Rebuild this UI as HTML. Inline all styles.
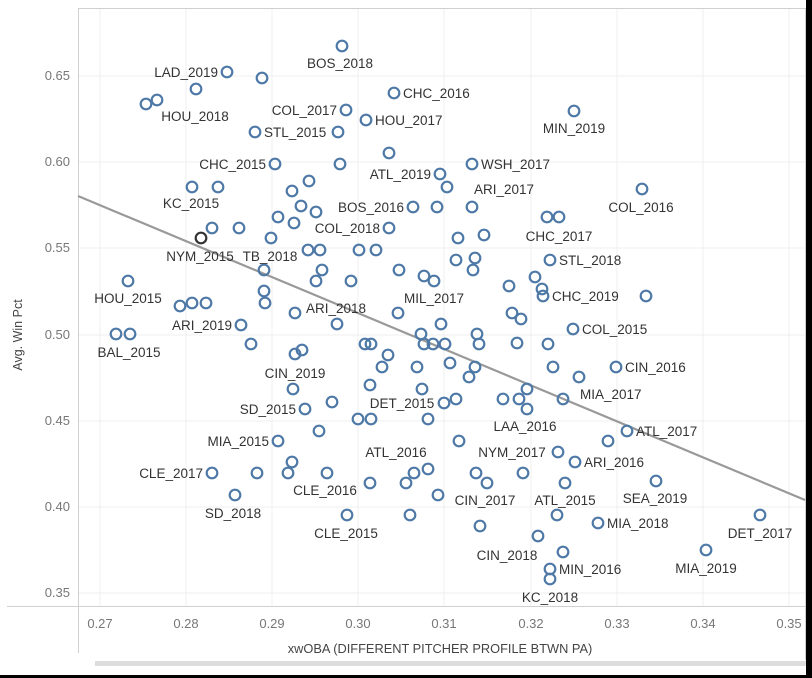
<!DOCTYPE html>
<html><head><meta charset="utf-8"><style>
html,body{margin:0;padding:0;background:#000;}
svg{display:block;}
text{font-family:"Liberation Sans",sans-serif;}
</style></head><body>
<svg width="812" height="678" xmlns="http://www.w3.org/2000/svg">
<rect x="0" y="0" width="806" height="675" fill="#fff"/>
<rect x="95" y="661" width="711" height="5" fill="#ddd"/>
<g stroke="#efefef" stroke-width="1">
<line x1="100" y1="8" x2="100" y2="606"/><line x1="186" y1="8" x2="186" y2="606"/><line x1="272" y1="8" x2="272" y2="606"/><line x1="358" y1="8" x2="358" y2="606"/><line x1="444" y1="8" x2="444" y2="606"/><line x1="531" y1="8" x2="531" y2="606"/><line x1="617" y1="8" x2="617" y2="606"/><line x1="703" y1="8" x2="703" y2="606"/><line x1="789" y1="8" x2="789" y2="606"/>
<line x1="78" y1="76" x2="805" y2="76"/><line x1="78" y1="162" x2="805" y2="162"/><line x1="78" y1="248" x2="805" y2="248"/><line x1="78" y1="335" x2="805" y2="335"/><line x1="78" y1="421" x2="805" y2="421"/><line x1="78" y1="507" x2="805" y2="507"/><line x1="78" y1="593" x2="805" y2="593"/>
</g>
<g stroke="#d0d0d0" stroke-width="1">
<line x1="78.5" y1="8" x2="78.5" y2="653"/><line x1="78" y1="8.5" x2="805" y2="8.5"/><line x1="7" y1="606.5" x2="805" y2="606.5"/><line x1="805.5" y1="8" x2="805.5" y2="660"/>
</g>
<g font-size="13" fill="#777" text-anchor="end">
<text x="70" y="80">0.65</text><text x="70" y="166">0.60</text><text x="70" y="252">0.55</text><text x="70" y="339">0.50</text><text x="70" y="425">0.45</text><text x="70" y="511">0.40</text><text x="70" y="597">0.35</text>
</g>
<g font-size="13" fill="#777" text-anchor="middle">
<text x="100" y="628">0.27</text><text x="186" y="628">0.28</text><text x="272" y="628">0.29</text><text x="358" y="628">0.30</text><text x="444" y="628">0.31</text><text x="531" y="628">0.32</text><text x="617" y="628">0.33</text><text x="703" y="628">0.34</text><text x="789" y="628">0.35</text>
</g>
<text x="440" y="653" font-size="12.8" fill="#444" text-anchor="middle">xwOBA (DIFFERENT PITCHER PROFILE BTWN PA)</text>
<text transform="translate(22,335) rotate(-90)" font-size="12.5" fill="#444" text-anchor="middle">Avg. Win Pct</text>
<line x1="78" y1="196" x2="805" y2="500" stroke="#999" stroke-width="2.2"/>
<g fill="none" stroke="#4e79a7" stroke-width="2.2">
<circle cx="342" cy="46" r="5.3"/><circle cx="227" cy="72" r="5.3"/><circle cx="262" cy="78" r="5.3"/><circle cx="196" cy="89" r="5.3"/><circle cx="146" cy="104" r="5.3"/><circle cx="157" cy="100" r="5.3"/><circle cx="394" cy="93" r="5.3"/><circle cx="346" cy="110" r="5.3"/><circle cx="366" cy="120" r="5.3"/><circle cx="574" cy="111" r="5.3"/><circle cx="255" cy="132" r="5.3"/><circle cx="338" cy="132" r="5.3"/>
<circle cx="389" cy="153" r="5.3"/><circle cx="275" cy="164" r="5.3"/><circle cx="340" cy="164" r="5.3"/><circle cx="472" cy="164" r="5.3"/><circle cx="440" cy="174" r="5.3"/><circle cx="447" cy="187" r="5.3"/><circle cx="192" cy="187" r="5.3"/><circle cx="218" cy="187" r="5.3"/><circle cx="309" cy="181" r="5.3"/><circle cx="292" cy="191" r="5.3"/><circle cx="301" cy="206" r="5.3"/><circle cx="316" cy="212" r="5.3"/><circle cx="278" cy="217" r="5.3"/><circle cx="294" cy="223" r="5.3"/><circle cx="212" cy="228" r="5.3"/><circle cx="239" cy="228" r="5.3"/><circle cx="271" cy="238" r="5.3"/>
<circle cx="413" cy="207" r="5.3"/><circle cx="437" cy="207" r="5.3"/><circle cx="472" cy="207" r="5.3"/><circle cx="642" cy="189" r="5.3"/><circle cx="547" cy="217" r="5.3"/><circle cx="559" cy="217" r="5.3"/><circle cx="389" cy="228" r="5.3"/><circle cx="458" cy="238" r="5.3"/><circle cx="484" cy="235" r="5.3"/>
<circle cx="308" cy="250" r="5.3"/><circle cx="320" cy="250" r="5.3"/><circle cx="359" cy="250" r="5.3"/><circle cx="376" cy="250" r="5.3"/><circle cx="456" cy="260" r="5.3"/><circle cx="475" cy="258" r="5.3"/><circle cx="473" cy="270" r="5.3"/><circle cx="550" cy="260" r="5.3"/><circle cx="399" cy="270" r="5.3"/><circle cx="424" cy="276" r="5.3"/><circle cx="434" cy="281" r="5.3"/><circle cx="264" cy="270" r="5.3"/><circle cx="322" cy="270" r="5.3"/><circle cx="128" cy="281" r="5.3"/><circle cx="316" cy="281" r="5.3"/><circle cx="351" cy="281" r="5.3"/><circle cx="509" cy="286" r="5.3"/><circle cx="535" cy="277" r="5.3"/><circle cx="542" cy="289" r="5.3"/><circle cx="543" cy="296" r="5.3"/><circle cx="646" cy="296" r="5.3"/><circle cx="264" cy="291" r="5.3"/>
<circle cx="180" cy="306" r="5.3"/><circle cx="192" cy="303" r="5.3"/><circle cx="206" cy="303" r="5.3"/><circle cx="265" cy="303" r="5.3"/><circle cx="295" cy="313" r="5.3"/><circle cx="398" cy="313" r="5.3"/><circle cx="512" cy="313" r="5.3"/><circle cx="521" cy="319" r="5.3"/><circle cx="241" cy="325" r="5.3"/><circle cx="337" cy="324" r="5.3"/><circle cx="441" cy="324" r="5.3"/><circle cx="573" cy="329" r="5.3"/><circle cx="116" cy="334" r="5.3"/><circle cx="130" cy="334" r="5.3"/><circle cx="421" cy="334" r="5.3"/><circle cx="477" cy="334" r="5.3"/><circle cx="251" cy="344" r="5.3"/><circle cx="365" cy="344" r="5.3"/><circle cx="371" cy="344" r="5.3"/><circle cx="424" cy="344" r="5.3"/><circle cx="433" cy="344" r="5.3"/><circle cx="445" cy="344" r="5.3"/><circle cx="479" cy="344" r="5.3"/><circle cx="517" cy="343" r="5.3"/><circle cx="548" cy="344" r="5.3"/><circle cx="295" cy="354" r="5.3"/><circle cx="302" cy="350" r="5.3"/><circle cx="388" cy="355" r="5.3"/>
<circle cx="382" cy="367" r="5.3"/><circle cx="417" cy="367" r="5.3"/><circle cx="450" cy="363" r="5.3"/><circle cx="475" cy="367" r="5.3"/><circle cx="553" cy="367" r="5.3"/><circle cx="616" cy="367" r="5.3"/><circle cx="469" cy="377" r="5.3"/><circle cx="579" cy="377" r="5.3"/><circle cx="370" cy="385" r="5.3"/><circle cx="422" cy="389" r="5.3"/><circle cx="527" cy="389" r="5.3"/><circle cx="293" cy="389" r="5.3"/><circle cx="503" cy="399" r="5.3"/><circle cx="519" cy="399" r="5.3"/><circle cx="527" cy="409" r="5.3"/><circle cx="563" cy="399" r="5.3"/><circle cx="444" cy="403" r="5.3"/><circle cx="456" cy="399" r="5.3"/><circle cx="305" cy="409" r="5.3"/><circle cx="332" cy="402" r="5.3"/>
<circle cx="358" cy="419" r="5.3"/><circle cx="371" cy="419" r="5.3"/><circle cx="428" cy="419" r="5.3"/><circle cx="319" cy="431" r="5.3"/><circle cx="278" cy="441" r="5.3"/><circle cx="459" cy="441" r="5.3"/><circle cx="608" cy="441" r="5.3"/><circle cx="627" cy="431" r="5.3"/><circle cx="558" cy="452" r="5.3"/><circle cx="575" cy="462" r="5.3"/><circle cx="292" cy="462" r="5.3"/>
<circle cx="212" cy="473" r="5.3"/><circle cx="257" cy="473" r="5.3"/><circle cx="288" cy="473" r="5.3"/><circle cx="327" cy="473" r="5.3"/><circle cx="414" cy="473" r="5.3"/><circle cx="406" cy="483" r="5.3"/><circle cx="428" cy="469" r="5.3"/><circle cx="370" cy="483" r="5.3"/><circle cx="476" cy="473" r="5.3"/><circle cx="487" cy="483" r="5.3"/><circle cx="523" cy="473" r="5.3"/><circle cx="565" cy="483" r="5.3"/><circle cx="656" cy="481" r="5.3"/><circle cx="235" cy="495" r="5.3"/><circle cx="438" cy="495" r="5.3"/>
<circle cx="347" cy="515" r="5.3"/><circle cx="410" cy="515" r="5.3"/><circle cx="557" cy="515" r="5.3"/><circle cx="598" cy="523" r="5.3"/><circle cx="760" cy="515" r="5.3"/><circle cx="480" cy="526" r="5.3"/><circle cx="538" cy="536" r="5.3"/><circle cx="563" cy="552" r="5.3"/><circle cx="706" cy="550" r="5.3"/><circle cx="550" cy="569" r="5.3"/><circle cx="550" cy="579" r="5.3"/>
</g>
<circle cx="201" cy="238" r="5.3" fill="none" stroke="#333" stroke-width="2.2"/>
<g font-size="13.5" fill="#333">
<g text-anchor="middle">
<text x="340" y="68">BOS_2018</text><text x="195" y="121">HOU_2018</text><text x="574" y="133">MIN_2019</text><text x="191" y="208">KC_2015</text><text x="641" y="212">COL_2016</text><text x="504" y="194">ARI_2017</text><text x="559" y="241">CHC_2017</text><text x="200" y="261">NYM_2015</text><text x="270" y="261">TB_2018</text><text x="128" y="303">HOU_2015</text><text x="434" y="303">MIL_2017</text><text x="129" y="357">BAL_2015</text><text x="295" y="378">CIN_2019</text><text x="525" y="431">LAA_2016</text><text x="396" y="457">ATL_2016</text><text x="325" y="495">CLE_2016</text><text x="485" y="505">CIN_2017</text><text x="565" y="505">ATL_2015</text><text x="655" y="503">SEA_2019</text><text x="233" y="518">SD_2018</text><text x="346" y="538">CLE_2015</text><text x="760" y="538">DET_2017</text><text x="507" y="560">CIN_2018</text><text x="706" y="573">MIA_2019</text><text x="550" y="602">KC_2018</text>
<text x="336" y="313">ARI_2018</text><text x="402" y="408">DET_2015</text><text x="512" y="457">NYM_2017</text>
</g>
<g text-anchor="end">
<text x="218" y="77">LAD_2019</text><text x="337" y="115">COL_2017</text><text x="266" y="169">CHC_2015</text><text x="431" y="179">ATL_2019</text><text x="404" y="212">BOS_2016</text><text x="380" y="233">COL_2018</text><text x="232" y="330">ARI_2019</text><text x="296" y="414">SD_2015</text><text x="269" y="446">MIA_2015</text><text x="203" y="478">CLE_2017</text>
</g>
<text x="403" y="98">CHC_2016</text><text x="375" y="125">HOU_2017</text><text x="264" y="137">STL_2015</text><text x="481" y="169">WSH_2017</text><text x="559" y="265">STL_2018</text><text x="552" y="301">CHC_2019</text><text x="582" y="334">COL_2015</text><text x="625" y="372">CIN_2016</text><text x="580" y="399">MIA_2017</text><text x="636" y="436">ATL_2017</text><text x="584" y="467">ARI_2016</text><text x="607" y="528">MIA_2018</text><text x="559" y="574">MIN_2016</text>
</g>
</svg>
</body></html>
